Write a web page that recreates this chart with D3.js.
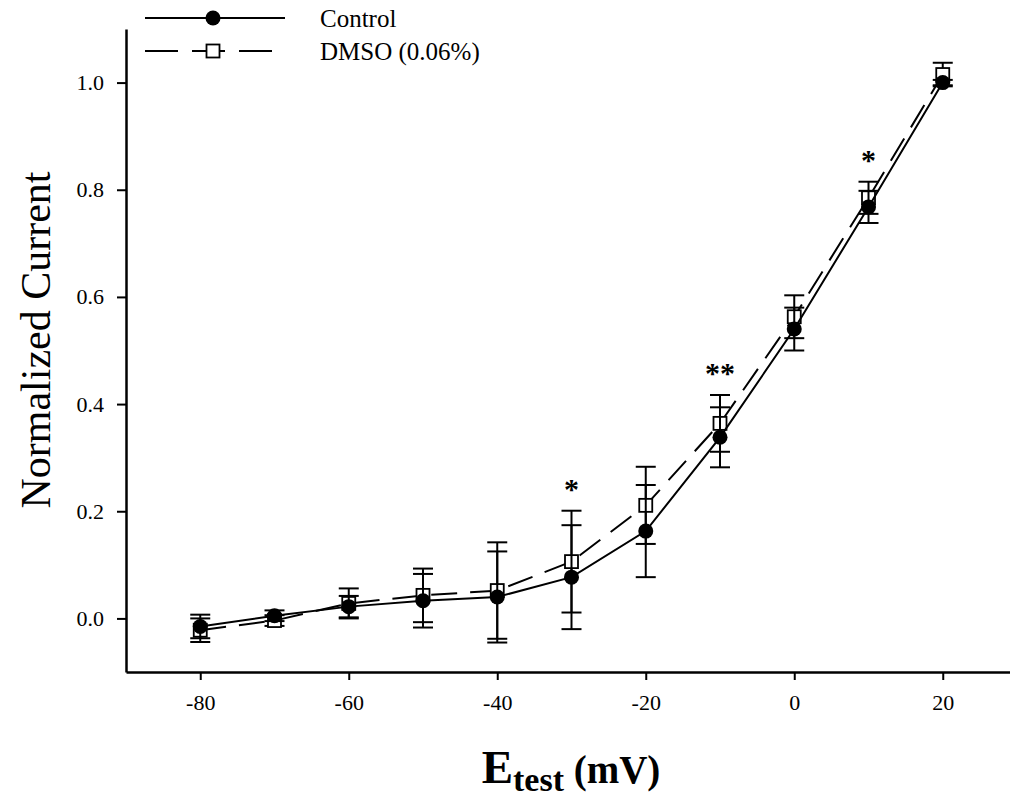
<!DOCTYPE html>
<html>
<head>
<meta charset="utf-8">
<script src="https://cdn.jsdelivr.net/npm/d3@7"></script>
<style>
  html, body { margin: 0; padding: 0; background: #fff; }
  svg { display: block; }
  text { font-family: "Liberation Serif", "Times New Roman", serif; fill: #000; }
</style>
</head>
<body>
<svg id="chart" width="1010" height="797"></svg>
<script>
// Test potentials (mV)
const voltages = [-80, -70, -60, -50, -40, -30, -20, -10, 0, 10, 20];

// Normalized current, mean and SEM for each condition
const controlMean = [-0.015, 0.005, 0.022, 0.033, 0.040, 0.077, 0.163, 0.338, 0.540, 0.768, 1.000];
const controlErr  = [0.022, 0.010, 0.020, 0.050, 0.085, 0.097, 0.086, 0.056, 0.040, 0.030, 0.005];
const dmsoMean    = [-0.022, -0.004, 0.028, 0.043, 0.052, 0.106, 0.211, 0.364, 0.563, 0.785, 1.015];
const dmsoErr     = [0.022, 0.010, 0.028, 0.050, 0.090, 0.095, 0.072, 0.053, 0.040, 0.030, 0.022];

// Significance marks
const sigVoltages = [-30, -10, 10];
const sigLabels   = ["*", "**", "*"];

const xTicks = [-80, -60, -40, -20, 0, 20];
const yTicks = [0, 0.2, 0.4, 0.6, 0.8, 1.0];

const svg = d3.select("#chart");

const x = d3.scaleLinear().domain([-90, 30]).range([126, 1017]);
const y = d3.scaleLinear().domain([-0.1, 1.1]).range([672, 29]);

// Axes (left and bottom only); plain hyphen for negatives
const yAxis = svg.append("g")
  .attr("transform", `translate(${x(-90)},0)`)
  .call(d3.axisLeft(y).tickValues(yTicks).tickFormat(d => d.toFixed(1))
    .tickSize(9).tickSizeOuter(0).tickPadding(13));
const xAxis = svg.append("g")
  .attr("transform", `translate(0,${y(-0.1)})`)
  .call(d3.axisBottom(x).tickValues(xTicks).tickFormat(d => String(d))
    .tickSize(8).tickSizeOuter(0).tickPadding(14));

[yAxis, xAxis].forEach(g => {
  g.select(".domain").attr("stroke", "#000").attr("stroke-width", 2.5);
  g.selectAll(".tick line").attr("stroke", "#000").attr("stroke-width", 2);
  g.selectAll(".tick text")
    .attr("font-family", "Liberation Serif, Times New Roman, serif")
    .attr("font-size", 22).attr("fill", "#000");
});

const series = [
  { name: "DMSO", mean: dmsoMean, err: dmsoErr, dash: "26,13", marker: "square" },
  { name: "Control", mean: controlMean, err: controlErr, dash: null, marker: "circle" }
];

const capHalf = 10;

series.forEach(s => {
  const pts = voltages.map((v, i) => ({ v, m: s.mean[i], e: s.err[i] }));
  const g = svg.append("g");

  // error bars
  const eb = g.selectAll(".eb").data(pts).enter().append("g");
  eb.append("line")
    .attr("x1", d => x(d.v)).attr("x2", d => x(d.v))
    .attr("y1", d => y(d.m + d.e)).attr("y2", d => y(d.m - d.e))
    .attr("stroke", "#000").attr("stroke-width", 2);
  eb.append("line")
    .attr("x1", d => x(d.v) - capHalf).attr("x2", d => x(d.v) + capHalf)
    .attr("y1", d => y(d.m + d.e)).attr("y2", d => y(d.m + d.e))
    .attr("stroke", "#000").attr("stroke-width", 2);
  eb.append("line")
    .attr("x1", d => x(d.v) - capHalf).attr("x2", d => x(d.v) + capHalf)
    .attr("y1", d => y(d.m - d.e)).attr("y2", d => y(d.m - d.e))
    .attr("stroke", "#000").attr("stroke-width", 2);

  // connecting line
  const line = d3.line().x(d => x(d.v)).y(d => y(d.m));
  g.append("path").datum(pts)
    .attr("d", line)
    .attr("fill", "none").attr("stroke", "#000").attr("stroke-width", 2)
    .attr("stroke-dasharray", s.dash);

  // markers
  if (s.marker === "circle") {
    g.selectAll(".mk").data(pts).enter().append("circle")
      .attr("cx", d => x(d.v)).attr("cy", d => y(d.m)).attr("r", 7.5)
      .attr("fill", "#000");
  } else {
    g.selectAll(".mk").data(pts).enter().append("rect")
      .attr("x", d => x(d.v) - 6.5).attr("y", d => y(d.m) - 6.5)
      .attr("width", 13).attr("height", 13)
      .attr("fill", "#fff").attr("stroke", "#000").attr("stroke-width", 1.8);
  }
});

// significance asterisks above the highest error bar
sigVoltages.forEach((v, k) => {
  const i = voltages.indexOf(v);
  const top = Math.max(controlMean[i] + controlErr[i], dmsoMean[i] + dmsoErr[i]);
  svg.append("text")
    .attr("x", x(v)).attr("y", y(top) - 12)
    .attr("text-anchor", "middle")
    .attr("font-size", 30).attr("font-weight", "bold")
    .text(sigLabels[k]);
});

// legend
const lg = svg.append("g");
lg.append("line").attr("x1", 145).attr("x2", 285).attr("y1", 18).attr("y2", 18)
  .attr("stroke", "#000").attr("stroke-width", 2);
lg.append("circle").attr("cx", 213).attr("cy", 18).attr("r", 7.5).attr("fill", "#000");
lg.append("line").attr("x1", 145).attr("x2", 272).attr("y1", 51).attr("y2", 51)
  .attr("stroke", "#000").attr("stroke-width", 2).attr("stroke-dasharray", "33,14");
lg.append("rect").attr("x", 213 - 6.5).attr("y", 51 - 6.5).attr("width", 13).attr("height", 13)
  .attr("fill", "#fff").attr("stroke", "#000").attr("stroke-width", 1.8);
lg.append("text").attr("x", 320).attr("y", 27).attr("font-size", 25).text("Control");
lg.append("text").attr("x", 320).attr("y", 60).attr("font-size", 25).text("DMSO (0.06%)");

// axis titles
svg.append("text")
  .attr("transform", "translate(50,340) rotate(-90)")
  .attr("text-anchor", "middle")
  .attr("font-size", 42)
  .text("Normalized Current");

const xt = svg.append("text")
  .attr("x", 571).attr("y", 783)
  .attr("text-anchor", "middle")
  .attr("font-weight", "bold");
xt.append("tspan").attr("font-size", 47).text("E");
xt.append("tspan").attr("font-size", 34).attr("dy", 8).text("test");
xt.append("tspan").attr("font-size", 39).attr("dy", -8).text(" (mV)");
</script>
</body>
</html>
